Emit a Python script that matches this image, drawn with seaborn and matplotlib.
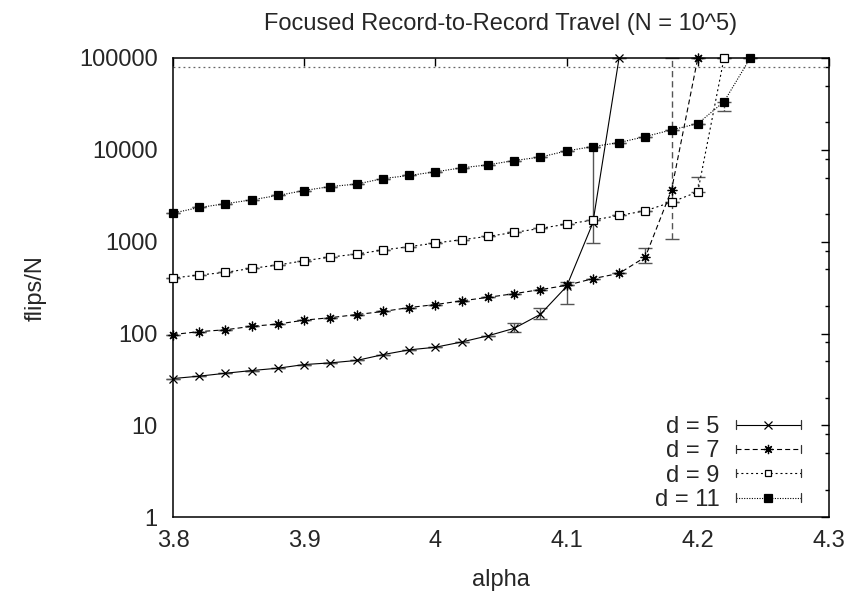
import numpy as np
import pandas as pd
import matplotlib
matplotlib.use("Agg")
import matplotlib.pyplot as plt
import seaborn as sns
from matplotlib.lines import Line2D
from matplotlib.legend_handler import HandlerLine2D
from matplotlib.ticker import LogLocator, NullFormatter, FixedLocator

# ---- data ----
alpha_5 = [3.80, 3.82, 3.84, 3.86, 3.88, 3.90, 3.92, 3.94, 3.96, 3.98, 4.00, 4.02, 4.04, 4.06, 4.08, 4.10, 4.12, 4.14]
flips_5 = [32.4, 34.4, 37, 39.6, 42, 46, 48, 51, 59, 66.5, 71, 81, 94.5, 114, 162, 326, 1600, 100000]
lo_5 = [32.4, 34.4, 37, 39.6, 42, 46, 48, 51, 59, 66.5, 71, 81, 94.5, 105, 145, 212, 960, 100000]
hi_5 = [32.4, 34.4, 37, 39.6, 42, 46, 48, 51, 59, 66.5, 71, 81, 94.5, 129, 190, 361, 10800, 100000]

alpha_7 = [3.80, 3.82, 3.84, 3.86, 3.88, 3.90, 3.92, 3.94, 3.96, 3.98, 4.00, 4.02, 4.04, 4.06, 4.08, 4.10, 4.12, 4.14, 4.16, 4.18, 4.20]
flips_7 = [97.6, 105, 110, 120, 127, 140, 149, 161, 174, 192, 207, 227, 248, 272, 301, 335, 396, 452, 681, 3670, 100000]
lo_7 = [97.6, 105, 110, 120, 127, 140, 149, 161, 174, 192, 207, 227, 248, 272, 301, 335, 396, 452, 586, 1080, 100000]
hi_7 = [97.6, 105, 110, 120, 127, 140, 149, 161, 174, 192, 207, 227, 248, 272, 301, 335, 396, 452, 845, 100000, 100000]

alpha_9 = [3.80, 3.82, 3.84, 3.86, 3.88, 3.90, 3.92, 3.94, 3.96, 3.98, 4.00, 4.02, 4.04, 4.06, 4.08, 4.10, 4.12, 4.14, 4.16, 4.18, 4.20, 4.22]
flips_9 = [403, 434, 464, 513, 558, 621, 681, 734, 812, 883, 968, 1052, 1143, 1262, 1396, 1556, 1720, 1930, 2170, 2700, 3490, 100000]
lo_9 = [403, 434, 464, 513, 558, 621, 681, 734, 812, 883, 968, 1052, 1143, 1262, 1396, 1556, 1720, 1930, 2170, 2700, 3490, 100000]
hi_9 = [403, 434, 464, 513, 558, 621, 681, 734, 812, 883, 968, 1052, 1143, 1262, 1396, 1556, 1720, 1930, 2170, 2700, 5050, 100000]

alpha_11 = [3.80, 3.82, 3.84, 3.86, 3.88, 3.90, 3.92, 3.94, 3.96, 3.98, 4.00, 4.02, 4.04, 4.06, 4.08, 4.10, 4.12, 4.14, 4.16, 4.18, 4.20, 4.22, 4.24]
flips_11 = [2050, 2360, 2590, 2860, 3190, 3610, 3990, 4240, 4870, 5260, 5770, 6370, 6870, 7650, 8340, 9740, 10860, 12000, 13960, 16500, 19300, 33500, 100000]
lo_11 = [2050, 2360, 2590, 2860, 3190, 3610, 3990, 4240, 4870, 5260, 5770, 6370, 6870, 7650, 8340, 9740, 10860, 12000, 13960, 16500, 19300, 26700, 100000]
hi_11 = [2050, 2360, 2590, 2860, 3190, 3610, 3990, 4240, 4870, 5260, 5770, 6370, 6870, 7650, 8340, 9740, 10860, 12000, 13960, 16500, 19300, 33500, 100000]

cutoff = 80000
series_labels = ["d = 5", "d = 7", "d = 9", "d = 11"]
x_ticks = [3.8, 3.9, 4.0, 4.1, 4.2, 4.3]
x_tick_labels = ["3.8", "3.9", "4", "4.1", "4.2", "4.3"]
y_ticks = [1, 10, 100, 1000, 10000, 100000]
y_tick_labels = ["1", "10", "100", "1000", "10000", "100000"]

frames = []
for lab, a, f in zip(series_labels, [alpha_5, alpha_7, alpha_9, alpha_11],
                     [flips_5, flips_7, flips_9, flips_11]):
    frames.append(pd.DataFrame({"alpha": a, "flips": f, "d": lab}))
df = pd.concat(frames, ignore_index=True)

# ---- style ----
sns.set_style("white")
plt.rcParams["font.family"] = ["Liberation Sans", "DejaVu Sans"]
FS = 17
plt.rcParams["font.size"] = FS

fig = plt.figure(figsize=(8.63, 5.92), dpi=100)
ax = fig.add_axes([173/863, 1-517.3/592, 656/863, 459.3/592])

LW = 0.8
styles = {
    "d = 5": dict(ls="-", marker="x", mfc="black", ms=6.0, mew=0.9),
    "d = 7": dict(ls=(0, (4.5, 2.8)), marker=(8, 2, 0), mfc="black", ms=7.0, mew=0.9),
    "d = 9": dict(ls=(0, (1.8, 2.6)), marker="s", mfc="white", ms=5.2, mew=0.9),
    "d = 11": dict(ls=(0, (1.0, 1.3)), marker="s", mfc="black", ms=5.8, mew=0.9),
}

# cutoff line
ax.axhline(cutoff, color="#666666", lw=0.9, ls=(0, (1.5, 2.5)), zorder=1)

lo_all = [lo_5, lo_7, lo_9, lo_11]
hi_all = [hi_5, hi_7, hi_9, hi_11]
for lab, lo, hi in zip(series_labels, lo_all, hi_all):
    sub = df[df["d"] == lab]
    st = styles[lab]
    y = sub["flips"].to_numpy()
    yerr = np.vstack([y - np.array(lo), np.array(hi) - y])
    eb = ax.errorbar(sub["alpha"], y, yerr=yerr, fmt="none", ecolor="#555555",
                     elinewidth=1.0, capsize=5, capthick=1.0, zorder=2, clip_on=False)
    eb[2][0].set_linestyle(st["ls"])

for lab in series_labels:
    sub = df[df["d"] == lab]
    st = styles[lab]
    sns.lineplot(data=sub, x="alpha", y="flips", ax=ax, color="black", lw=LW,
                 linestyle=st["ls"], marker=st["marker"], markerfacecolor=st["mfc"],
                 markeredgecolor="black", markersize=st["ms"], markeredgewidth=st["mew"],
                 clip_on=False, zorder=3, label=lab, legend=False, errorbar=None)

ax.set_yscale("log")
ax.set_xlim(3.8, 4.3)
ax.set_ylim(1, 100000)
ax.xaxis.set_major_locator(FixedLocator(x_ticks))
ax.set_xticklabels(x_tick_labels)
ax.yaxis.set_major_locator(FixedLocator(y_ticks))
ax.set_yticklabels(y_tick_labels)
ax.yaxis.set_minor_locator(LogLocator(base=10, subs=(2, 5, 8)))
ax.yaxis.set_minor_formatter(NullFormatter())
ax.tick_params(which="both", direction="in", top=True, right=True, color="black")
ax.tick_params(which="major", length=5.8, width=1, labelsize=FS)
ax.tick_params(axis="x", which="major", pad=9.5)
ax.tick_params(axis="y", which="major", pad=11)
ax.tick_params(which="minor", length=3, width=1)
for s in ax.spines.values():
    s.set_color("black")
    s.set_linewidth(1.1)

ax.set_xlabel("alpha", fontsize=FS, labelpad=12)
ax.set_ylabel("flips/N", fontsize=FS, labelpad=23)
ax.set_title("Focused Record-to-Record Travel (N = 10^5)", fontsize=FS, pad=20)


class CapHandler(HandlerLine2D):
    def create_artists(self, legend, orig_handle, xdescent, ydescent, width, height, fontsize, trans):
        arts = super().create_artists(legend, orig_handle, xdescent, ydescent, width, height, fontsize, trans)
        ymid = (height - ydescent) / 2
        h = 3.0
        for x in (-xdescent, width - xdescent):
            arts.append(Line2D([x, x], [ymid - h, ymid + h], color="#333333", lw=0.9, transform=trans))
        return arts


handles = []
for lab in series_labels:
    st = styles[lab]
    handles.append(Line2D([], [], color="black", lw=LW, ls=st["ls"], marker=st["marker"],
                          mfc=st["mfc"], mec="black", ms=st["ms"] * 0.95, mew=st["mew"]))
leg = ax.legend(handles, series_labels, loc="lower right", markerfirst=False, frameon=False,
                numpoints=1, handlelength=2.75, handletextpad=0.68, labelspacing=0.1,
                fontsize=FS, borderaxespad=0, borderpad=0, bbox_to_anchor=(0.957, 0.014),
                handler_map={Line2D: CapHandler()})

fig.savefig("out.png", dpi=100)
